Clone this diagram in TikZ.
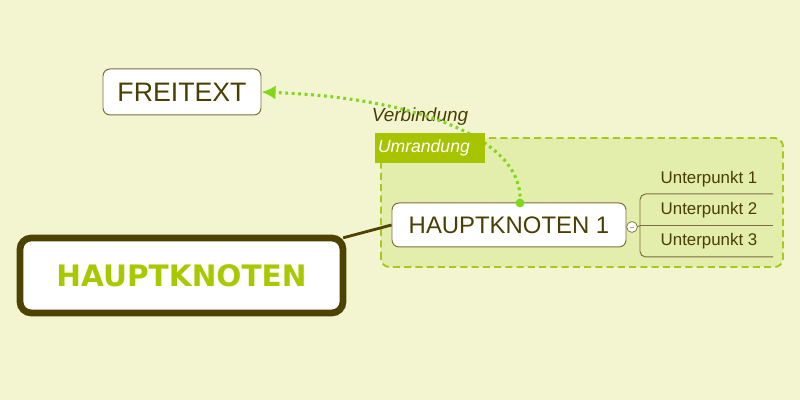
\documentclass[tikz,border=0pt]{standalone}
\usepackage{fontspec}
\setmainfont{Liberation Sans}
\newfontfamily\boldfont{DejaVu Sans}
\usetikzlibrary{arrows.meta}

\definecolor{bgcol}{RGB}{243,245,209}
\definecolor{bordfill}{RGB}{227,237,172}
\definecolor{borddash}{RGB}{168,200,26}
\definecolor{labelgreen}{RGB}{166,196,0}
\definecolor{linkgreen}{RGB}{127,216,26}
\definecolor{textdark}{RGB}{74,63,0}
\definecolor{boxline}{RGB}{123,110,60}
\definecolor{mainline}{RGB}{77,66,0}
\definecolor{maintext}{RGB}{168,200,0}

\begin{document}
\begin{tikzpicture}
% Configurable parameters
\def\subx{16.0}
\def\subend{19.325}
\def\subtext{17.725}

\tikzset{
  topicbox/.style={draw=boxline,fill=white,rounded corners=5pt,line width=0.7pt,
    text=textdark,inner sep=0pt},
  subtopic/.style={text=textdark,font=\fontsize{12}{14}\selectfont},
}

% Background
\useasboundingbox (0,0) rectangle (20,10);
\fill[bgcol] (0,0) rectangle (20,10);

% Boundary
\path[draw=borddash,fill=bordfill,line width=1.4pt,dash pattern=on 5pt off 3pt,
  rounded corners=6pt] (9.525,3.325) rectangle (19.575,6.55);

% Topics
\node[topicbox,minimum width=3.95cm,minimum height=1.15cm,
  font=\fontsize{19}{22}\selectfont] (freitext) at (4.55,7.7) {FREITEXT};
\node[topicbox,minimum width=5.85cm,minimum height=1.1cm,
  font=\fontsize{17}{20}\selectfont] (hk1) at (12.725,4.375) {HAUPTKNOTEN 1};
\node[draw=mainline,fill=white,line width=4.8pt,rounded corners=8pt,
  minimum width=8.075cm,minimum height=1.875cm,text=maintext,
  font=\boldfont\bfseries\fontsize{21}{25}\selectfont] (hk) at (4.5375,3.1125) {HAUPTKNOTEN};

% Connector main -> HAUPTKNOTEN 1
\path[draw=mainline,line width=2pt] (hk.north east) ++(-0.08,-0.08) coordinate (hkout)
  (hkout) -- (hk1.west);

% Subtopics
\coordinate (fold) at (15.8,4.325);
\path[draw=boxline,line width=0.7pt] (fold) -- (\subx,4.35);
\path[draw=boxline,line width=0.7pt,rounded corners=4pt]
  (\subend,5.15) -- (\subx,5.15) -- (\subx,3.575) -- (\subend,3.575);
\path[draw=boxline,line width=0.7pt] (\subx,4.35) -- (\subend,4.35);
\node[subtopic] (u1) at (\subtext,5.525) {Unterpunkt 1};
\node[subtopic] (u2) at (\subtext,4.75) {Unterpunkt 2};
\node[subtopic] (u3) at (\subtext,3.975) {Unterpunkt 3};
\node[circle,draw=boxline,fill=white,minimum size=0.27cm,inner sep=0pt,
  line width=0.5pt] (foldbtn) at (fold) {};
\path[draw=gray!70,line width=0.6pt] (15.74,4.325) -- (15.86,4.325);

% Relation
\coordinate (linkstart) at (13.0,4.925);
\node[text=textdark,font=\fontsize{13.5}{16}\selectfont\itshape] (verb) at (10.5,7.075) {Verbindung};
\path[draw=linkgreen,line width=2.2pt,dash pattern=on 2pt off 2.6pt,
  -{Latex[length=10pt,width=10pt]}]
  (linkstart) .. controls (13.125,6.5) and (10.5,7.55) .. (freitext.east);
\fill[linkgreen] (linkstart) circle (0.11);

% Boundary label
\node[fill=labelgreen,text=white,minimum width=2.75cm,minimum height=0.75cm,
  inner sep=0pt,text width=2.6cm,font=\fontsize{12.5}{15}\selectfont\itshape]
  (umrandung) at (10.75,6.3) {Umrandung};
\end{tikzpicture}
\end{document}
